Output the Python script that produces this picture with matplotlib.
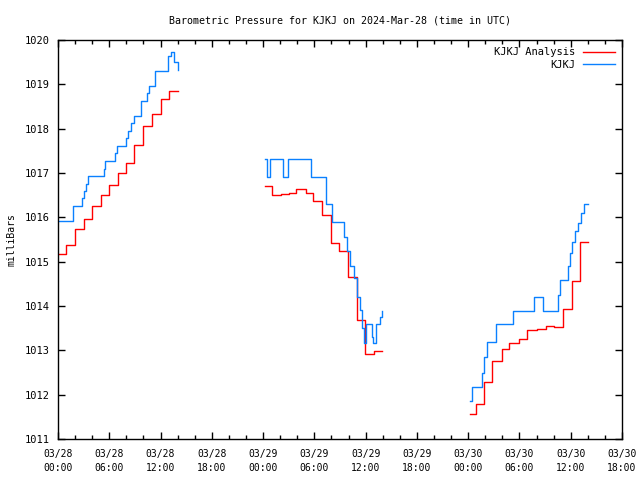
import matplotlib
matplotlib.use("Agg")
import matplotlib.pyplot as plt
from matplotlib.ticker import MultipleLocator

# hours after 2024-03-28 00:00 UTC, and pressure (mb) at each change
kjkj_hours = [
    [0.0, 1.75, 2.75, 3.0, 3.3, 3.55, 5.35, 5.5, 6.7, 6.9, 8.0, 8.2, 8.5, 8.9,
     9.75, 10.4, 10.6, 11.4, 12.9, 13.2, 13.6, 14.0],
    [24.2, 24.45, 24.8, 26.35, 26.9, 29.6, 31.4, 32.1, 33.5, 33.8, 34.2, 34.6,
     35.0, 35.3, 35.6, 35.85, 36.1, 36.7, 36.9, 37.2, 37.7, 37.9],
    [48.2, 48.5, 49.6, 49.9, 50.2, 50.5, 51.3, 53.3, 55.7, 56.7, 58.5, 58.8,
     59.7, 59.9, 60.2, 60.5, 60.8, 61.2, 61.5, 62.0],
]
kjkj_mb = [
    [1015.92, 1016.26, 1016.43, 1016.60, 1016.75, 1016.93, 1017.10, 1017.27,
     1017.45, 1017.61, 1017.80, 1017.95, 1018.12, 1018.29, 1018.63, 1018.80,
     1018.97, 1019.31, 1019.64, 1019.72, 1019.50, 1019.33],
    [1017.31, 1016.90, 1017.31, 1016.90, 1017.31, 1016.90, 1016.30, 1015.89,
     1015.55, 1015.25, 1014.90, 1014.63, 1014.20, 1013.90, 1013.50, 1013.17,
     1013.59, 1013.30, 1013.17, 1013.59, 1013.75, 1013.88],
    [1011.86, 1012.17, 1012.50, 1012.85, 1013.18, 1013.18, 1013.59, 1013.89,
     1014.20, 1013.89, 1014.25, 1014.59, 1014.90, 1015.20, 1015.45, 1015.70,
     1015.87, 1016.10, 1016.29, 1016.29],
]

analysis_hours = [
    [0.0, 0.95, 2.0, 3.0, 4.0, 5.0, 6.0, 7.0, 8.0, 8.9, 10.0, 11.0, 12.1,
     13.0, 14.0],
    [24.2, 25.0, 26.1, 27.0, 27.9, 29.0, 29.8, 30.9, 31.9, 32.9, 33.9, 35.0,
     35.9, 37.0, 37.9],
    [48.2, 48.9, 49.9, 50.8, 51.9, 52.8, 53.9, 54.9, 56.1, 57.1, 58.1, 59.1,
     60.1, 61.1, 62.0],
]
analysis_mb = [
    [1015.17, 1015.37, 1015.74, 1015.96, 1016.26, 1016.50, 1016.74, 1016.99,
     1017.22, 1017.63, 1018.06, 1018.32, 1018.66, 1018.85, 1018.85],
    [1016.70, 1016.50, 1016.52, 1016.56, 1016.65, 1016.56, 1016.37, 1016.05,
     1015.41, 1015.24, 1014.66, 1013.68, 1012.92, 1012.99, 1012.99],
    [1011.56, 1011.80, 1012.28, 1012.75, 1013.02, 1013.16, 1013.25, 1013.46,
     1013.48, 1013.54, 1013.53, 1013.93, 1014.57, 1015.44, 1015.44],
]

tick_hours = list(range(0, 67, 6))
tick_labels = ["03/28\n00:00", "03/28\n06:00", "03/28\n12:00", "03/28\n18:00",
               "03/29\n00:00", "03/29\n06:00", "03/29\n12:00", "03/29\n18:00",
               "03/30\n00:00", "03/30\n06:00", "03/30\n12:00", "03/30\n18:00"]

plt.rcParams['font.family'] = ['DejaVu Sans Mono']
plt.rcParams['font.size'] = 7

fig = plt.figure(figsize=(6.4, 4.8), dpi=100)
ax = fig.add_axes([58 / 640, 41 / 480, 564 / 640, 399 / 480])

red = '#ff0000'
blue = '#0a80ff'
for i in range(3):
    ax.plot(analysis_hours[i], analysis_mb[i], color=red, lw=1.0,
            drawstyle='steps-post', label='KJKJ Analysis' if i == 0 else None)
for i in range(3):
    ax.plot(kjkj_hours[i], kjkj_mb[i], color=blue, lw=1.0,
            drawstyle='steps-post', label='KJKJ' if i == 0 else None)

ax.set_xlim(0, 66)
ax.set_ylim(1011, 1020)
ax.set_xticks(tick_hours)
ax.set_xticklabels(tick_labels, linespacing=1.5)
ax.xaxis.set_minor_locator(MultipleLocator(2))
ax.yaxis.set_major_locator(MultipleLocator(1))
ax.tick_params(which='both', direction='in', top=True, right=True, width=1)
ax.tick_params(which='major', length=5)
ax.tick_params(which='minor', length=3)
ax.tick_params(axis='x', pad=7)
ax.tick_params(axis='y', pad=6, labelsize=7.5)
for s in ax.spines.values():
    s.set_linewidth(1.0)

ax.set_ylabel('milliBars', labelpad=6)
ax.set_title('Barometric Pressure for KJKJ on 2024-Mar-28 (time in UTC)',
             fontsize=7.2, pad=12)
ax.legend(loc='upper right', frameon=False, markerfirst=False, fontsize=7.5,
          handlelength=3.0, borderaxespad=0.3, labelspacing=0.25)

fig.savefig('out.png', dpi=100)
